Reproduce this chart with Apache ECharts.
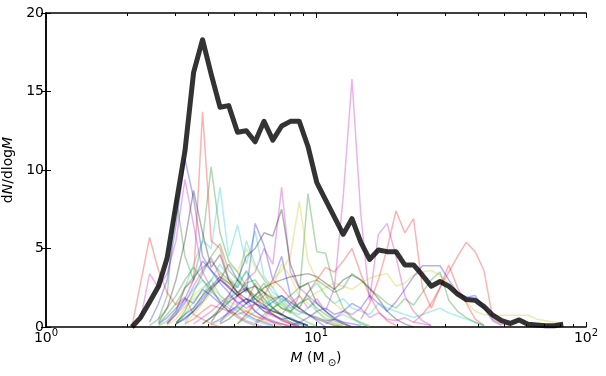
<!DOCTYPE html>
<html>
<head>
<meta charset="utf-8">
<script src="https://cdn.jsdelivr.net/npm/echarts@6/dist/echarts.min.js"></script>
<style>
  html, body { margin: 0; padding: 0; background: #fff; }
  #chart { width: 606px; height: 376px; }
</style>
</head>
<body>
<div id="chart"></div>
<script>
// mass bins (Msun), log spaced
var massBins = [2.08, 2.24, 2.42, 2.61, 2.81, 3.03, 3.27, 3.52, 3.80, 4.09,
  4.41, 4.75, 5.12, 5.52, 5.95, 6.42, 6.92, 7.46, 8.04, 8.67,
  9.34, 10.07, 10.85, 11.70, 12.61, 13.59, 14.65, 15.79, 17.02, 18.35,
  19.78, 21.32, 22.98, 24.78, 26.71, 28.79, 31.03, 33.45, 36.06, 38.87,
  41.90, 45.16, 48.68, 52.48, 56.57, 60.98, 65.73, 70.86, 76.38, 82.33];

// thick dark curve (mean)
var meanCurve = [0, 0.6, 1.6, 2.6, 4.4, 7.8, 11.2, 16.2, 18.3, 16.1,
  14.0, 14.1, 12.4, 12.5, 11.8, 13.1, 11.9, 12.8, 13.1, 13.1,
  11.5, 9.2, 8.1, 7.0, 5.9, 6.9, 5.4, 4.3, 4.9, 4.8,
  4.8, 3.95, 3.95, 3.3, 2.6, 2.9, 2.6, 2.1, 1.75, 1.7,
  1.3, 0.75, 0.4, 0.23, 0.45, 0.17, 0.13, 0.08, 0.08, 0.17];

// thin curves: first bin index of each run, then its values
var runStart = [2, 3, 0, 4, 1, 4, 3, 4, 5, 4, 6, 10, 12, 9, 3, 3, 12, 5, 14, 14, 10,
  18, 14, 26, 10, 22, 6, 5, 5, 8, 32, 3, 4, 3, 8, 9, 2, 6, 12, 7, 9, 5];

var runValues = [
  [0.3, 1.5, 3.0, 6.5, 10.7, 8.2, 4.5, 3.6, 2.8, 2.2, 1.5, 1.8, 1.0, 0.6, 0.4, 0.2, 0],
  [0.5, 2.0, 8.3, 4.5, 3.0, 5.5, 10.2, 6.0, 4.2, 3.5, 2.6, 1.8, 2.2, 1.2, 0.8, 0.5, 0.2, 0],
  [0, 2.8, 5.7, 3.6, 2.2, 1.4, 1.9, 0.8, 0.5, 0.2, 0],
  [0.2, 1.0, 2.5, 4.0, 5.5, 5.0, 8.9, 4.5, 6.5, 4.0, 6.1, 3.2, 2.5, 1.6, 1.0, 0.6, 0.3, 0],
  [0.5, 3.4, 2.5, 3.4, 5.5, 9.4, 6.5, 3.5, 2.5, 1.6, 1.2, 0.7, 0.4, 0.2, 0],
  [0.1, 0.5, 1.2, 2.0, 2.5, 3.0, 3.4, 2.8, 3.0, 2.4, 2.0, 1.6, 1.2, 1.5, 0.9, 0.6, 0.3, 0.1],
  [0.3, 1.2, 3.0, 5.5, 8.7, 6.0, 3.8, 4.6, 3.0, 2.2, 2.5, 1.5, 1.0, 0.8, 0.4, 0.2, 0],
  [0.2, 0.8, 1.8, 3.0, 4.2, 3.6, 3.0, 4.0, 3.0, 2.2, 6.6, 5.2, 3.0, 4.5, 2.0, 1.2, 0.8, 0.4, 0],
  [0.2, 1.0, 2.2, 3.4, 4.5, 5.3, 3.6, 3.0, 2.5, 2.0, 2.8, 1.8, 1.2, 0.9, 2.0, 8.5, 4.8, 4.7, 2.5, 1.2, 0.6, 0.2, 0],
  [0.3, 1.0, 2.5, 3.0, 13.7, 5.5, 5.0, 3.0, 2.2, 1.5, 2.8, 1.4, 0.8, 0.5, 0.2, 0],
  [0.3, 1.2, 2.0, 3.0, 4.0, 3.2, 2.5, 5.5, 4.0, 3.0, 2.2, 1.8, 1.2, 1.5, 2.0, 1.0, 0.5, 0.2, 0],
  [0.3, 1.0, 2.0, 3.0, 3.5, 5.0, 4.0, 8.9, 3.5, 2.5, 2.0, 1.5, 1.0, 0.6, 0.3, 0],
  [0.2, 0.8, 1.5, 2.5, 3.0, 3.6, 4.5, 8.0, 4.2, 3.0, 2.0, 1.5, 1.0, 0.6, 0.3, 0],
  [0.3, 1.2, 2.0, 3.0, 4.5, 5.0, 6.0, 5.8, 7.5, 4.0, 2.5, 2.8, 1.5, 1.0, 0.5, 0.2, 0],
  [0.2, 0.6, 1.2, 1.8, 1.5, 2.4, 2.0, 1.5, 1.0, 1.3, 0.8, 0.5, 0.3, 0.1],
  [0.2, 0.8, 1.5, 2.5, 3.2, 3.8, 4.2, 3.5, 3.0, 2.5, 3.6, 2.6, 1.8, 1.2, 0.7, 0.3, 0.1],
  [0.2, 0.8, 1.5, 2.0, 3.0, 2.5, 1.8, 1.2, 2.2, 3.0, 3.8, 3.5, 4.2, 5.0, 3.4, 2.0, 1.0, 0.4, 0.1],
  [0.2, 0.8, 1.6, 2.4, 3.0, 2.0, 1.5, 2.8, 3.5, 2.6, 1.8, 1.2, 0.8, 0.5, 0.2, 0],
  [0.2, 0.6, 1.2, 0.8, 1.5, 2.0, 1.2, 1.8, 1.0, 2.5, 8.3, 15.8, 7.2, 1.7, 5.9, 6.6, 4.5, 2.0, 1.0, 0.4, 0.1],
  [0.2, 0.5, 0.9, 1.2, 1.0, 1.5, 1.8, 2.2, 2.5, 2.8, 2.6, 2.4, 2.8, 3.1, 3.3, 3.4, 2.6, 2.8,
    3.3, 3.5, 3.6, 3.3, 2.8, 2.2, 1.6, 1.0, 0.8, 0.75, 0.75, 0.75, 0.75, 0.75, 0.5, 0.4, 0.3, 0.2],
  [0.2, 0.5, 1.0, 1.5, 2.0, 2.5, 2.8, 3.0, 3.2, 3.3, 3.4, 3.2, 2.8, 2.4, 3.0, 3.3, 3.0, 2.5, 1.8, 1.0, 0.5, 0.2, 0],
  [0.1, 0.3, 0.6, 1.0, 1.2, 0.8, 1.0, 1.5, 1.2, 2.0, 1.5, 1.0, 1.6, 2.4, 3.2, 3.9, 3.9, 3.9, 3.0, 2.2, 1.9, 2.0, 1.2, 0.4, 0.1],
  [0.3, 0.8, 1.2, 1.6, 2.0, 2.5, 2.8, 3.0, 2.6, 2.2, 2.5, 3.4, 3.0, 2.4, 2.0, 1.5, 1.2, 1.8, 1.4, 2.2, 3.0, 3.5, 1.7, 1.0, 0.6, 0.3, 0.1],
  [0.5, 1.5, 3.0, 5.0, 7.4, 6.0, 6.9, 2.5, 1.2, 2.5, 3.95, 2.5, 1.5, 0.5, 0.1],
  [0.3, 0.8, 1.2, 1.5, 2.0, 1.6, 1.2, 1.8, 1.5, 1.2, 2.2, 2.8, 2.0, 1.5, 1.8, 1.2, 1.0, 0.8, 1.5, 1.2, 1.0, 0.8, 0.6, 0.8, 1.0, 1.2, 0.9, 0.7, 0.5, 0.3, 0.1],
  [0.2, 0.5, 1.0, 0.8, 1.2, 0.6, 0.9, 0.5, 0.4, 0.6, 0.3, 0.2, 0.1],
  [0.2, 0.8, 1.5, 2.2, 3.0, 4.0, 3.5, 5.0, 3.8, 3.0, 2.5, 4.0, 3.2, 2.0, 1.5, 1.0, 0.6, 0.3, 0.1],
  [0.3, 0.8, 1.2, 2.0, 2.6, 3.2, 2.8, 2.2, 1.8, 1.5, 1.2, 1.0, 0.8, 0.5, 0.3, 0.1],
  [0.2, 0.5, 1.0, 1.8, 2.5, 3.0, 2.5, 2.0, 1.5, 1.8, 1.2, 0.8, 0.5, 0.6, 0.3, 0.1],
  [0.2, 0.6, 1.2, 1.8, 2.2, 2.8, 3.0, 2.2, 1.6, 1.2, 1.0, 1.5, 1.8, 1.2, 0.8, 0.4, 0.2, 0],
  [0.3, 0.8, 1.5, 2.5, 3.5, 4.5, 5.4, 4.8, 3.6, 0.5, 0.2, 0.1],
  [0.1, 0.4, 1.0, 1.6, 2.4, 3.0, 2.2, 1.8, 1.4, 1.0, 0.7, 0.4, 0.2, 0],
  [0.2, 0.8, 1.5, 2.6, 3.6, 4.4, 3.2, 2.5, 2.0, 1.5, 1.0, 0.6, 0.3, 0.1],
  [0.1, 0.3, 0.8, 1.3, 1.8, 2.2, 2.6, 2.0, 1.6, 1.4, 1.0, 0.7, 0.4, 0.2, 0],
  [0.2, 0.6, 1.0, 1.6, 2.0, 2.4, 2.6, 2.2, 1.8, 2.0, 1.6, 1.2, 0.8, 0.5, 0.3, 0.1, 0],
  [0.2, 0.5, 0.9, 1.4, 1.8, 1.5, 1.2, 1.6, 2.0, 1.4, 1.0, 0.8, 0.6, 0.4, 0.5, 0.3, 0.2, 0.1],
  [0.1, 0.5, 1.2, 2.0, 3.0, 3.8, 3.0, 2.4, 1.6, 1.0, 0.6, 0.3, 0.1],
  [0.2, 0.5, 1.0, 1.4, 1.2, 1.0, 0.8, 1.0, 0.7, 0.5, 0.3, 0.2, 0.1],
  [0.2, 0.6, 1.0, 1.4, 1.8, 1.4, 1.0, 0.8, 1.2, 1.6, 1.0, 0.6, 0.8, 0.5, 0.3, 0.1],
  [0.2, 0.6, 1.0, 1.5, 2.0, 1.6, 1.2, 1.5, 1.0, 0.7, 0.5, 0.3, 0.1],
  [0.1, 0.4, 0.8, 1.2, 1.0, 1.5, 1.8, 2.0, 1.6, 1.2, 1.0, 0.8, 0.6, 0.4, 0.2, 0.1],
  [0.2, 0.6, 1.0, 1.6, 2.4, 3.0, 2.6, 2.0, 2.4, 1.8, 1.4, 1.0, 0.8, 0.5, 0.3, 0.1]
];

var majorTicks = [1, 10, 100];
var minorTicks = [2, 3, 4, 5, 6, 7, 8, 9, 20, 30, 40, 50, 60, 70, 80, 90];

// matplotlib classic cycle b g r c m y k
var palette = ['#0000ff', '#008000', '#ff0000', '#00bfbf', '#bf00bf', '#bfbf00', '#000000'];
var FONT = 'DejaVu Sans';

var chart = echarts.init(document.getElementById('chart'), null, { renderer: 'canvas' });

var series = [];
runValues.forEach(function (vals, i) {
  var pts = vals.map(function (v, j) { return [massBins[runStart[i] + j], v]; });
  series.push({
    type: 'line',
    data: pts,
    symbol: 'none',
    silent: true,
    z: 2,
    lineStyle: { color: palette[i % 7], width: 1.5, opacity: 0.3 }
  });
});
series.push({
  type: 'line',
  data: meanCurve.map(function (v, k) { return [massBins[k], v]; }),
  symbol: 'none',
  silent: true,
  z: 3,
  lineStyle: { color: '#000', opacity: 0.8, width: 5, join: 'round' }
});

var axisLine = { show: true, lineStyle: { color: '#000', width: 1.5 } };
var tickStyle = { color: '#000', width: 1 };

// tick-only axes: linear in log10(M) so the ticks land on the log axis positions
function tickAxis(pos, ticks, len, withLine) {
  return {
    type: 'value', min: 0, max: 2, position: pos,
    axisLine: withLine ? axisLine : { show: false },
    axisTick: { show: true, inside: true, length: len, lineStyle: tickStyle,
      customValues: ticks.map(function (t) { return Math.log10(t); }) },
    axisLabel: { show: false },
    splitLine: { show: false }
  };
}

var xMain = {
  type: 'log', logBase: 10, min: 1, max: 100, position: 'bottom',
  axisLine: axisLine,
  axisTick: { show: true, inside: true, length: 5, lineStyle: tickStyle },
  splitLine: { show: false },
  axisLabel: {
    margin: 1,
    formatter: function (v) {
      return '{b|10}{s|' + Math.round(Math.log10(v)) + '}';
    },
    rich: {
      b: { fontFamily: FONT, fontSize: 14, color: '#000', padding: [3, 0, 0, 0] },
      s: { fontFamily: FONT, fontSize: 10, color: '#000', verticalAlign: 'top' }
    }
  },
  name: '{i|M}{r| (M}{sub| ⊙}{r|)}',
  nameLocation: 'middle',
  nameGap: 22,
  nameTextStyle: {
    rich: {
      i: { fontFamily: FONT, fontSize: 14, fontStyle: 'italic', color: '#000' },
      r: { fontFamily: FONT, fontSize: 14, color: '#000' },
      sub: { fontFamily: FONT, fontSize: 10, color: '#000', verticalAlign: 'bottom', padding: [9, 0, 0, 0] }
    }
  }
};

function valAxis(pos, withLabel) {
  return {
    type: 'value', min: 0, max: 20, interval: 5, position: pos,
    axisLine: axisLine,
    axisTick: { show: true, inside: true, length: 5, lineStyle: tickStyle },
    axisLabel: withLabel ? { fontFamily: FONT, fontSize: 14, color: '#000', margin: 2 } : { show: false },
    splitLine: { show: false }
  };
}

var yMain = valAxis('left', true);
yMain.name = '{r|d}{i|N}{r|/dlog}{i|M}';
yMain.nameLocation = 'middle';
yMain.nameGap = 24;
yMain.nameRotate = 90;
yMain.nameTextStyle = {
  rich: {
    i: { fontFamily: FONT, fontSize: 14, fontStyle: 'italic', color: '#000' },
    r: { fontFamily: FONT, fontSize: 14, color: '#000' }
  }
};

var option = {
  animation: false,
  backgroundColor: '#ffffff',
  grid: { left: 46, right: 20, top: 13, bottom: 49, containLabel: false, outerBoundsMode: 'none' },
  xAxis: [
    xMain,
    tickAxis('bottom', minorTicks, 3, false),
    tickAxis('top', majorTicks, 5, true),
    tickAxis('top', minorTicks, 3, false)
  ],
  yAxis: [yMain, valAxis('right', false)],
  series: series
};

chart.setOption(option);
</script>
</body>
</html>
